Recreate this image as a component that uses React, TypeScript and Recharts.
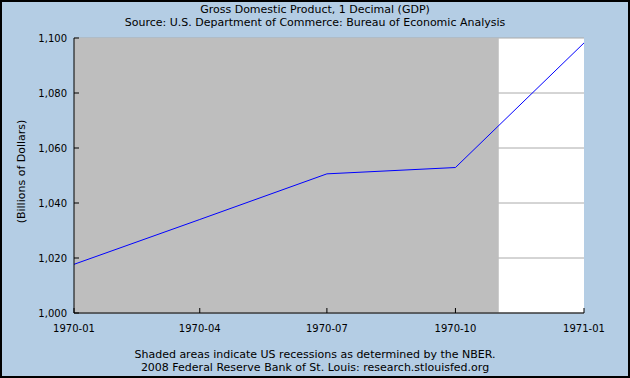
import { LineChart, Line, XAxis, YAxis, CartesianGrid, ReferenceArea, Label } from 'recharts';

// quarterly GDP, billions of dollars
const quarters = ['1970-01', '1970-04', '1970-07', '1970-10', '1971-01'];
const dayOfPeriod = [0, 90, 181, 273, 365];
const gdp = [1017.7, 1034.0, 1050.6, 1052.9, 1098.2];

const yTicks = [1000, 1020, 1040, 1060, 1080, 1100];
// NBER recession Dec 1969 - Nov 1970, in days since 1970-01-01
const recessionStart = 0;
const recessionEnd = 304;

const data = dayOfPeriod.map((d, i) => ({ day: d, label: quarters[i], value: gdp[i] }));

const FONT = '"DejaVu Sans", Verdana, sans-serif';
const BG = '#b4cde4';

function fmtQuarter(day: number) {
  const i = dayOfPeriod.indexOf(day);
  return i >= 0 ? quarters[i] : '';
}

export default function App() {
  return (
    <div
      style={{
        position: 'absolute',
        left: 0,
        top: 0,
        width: 630,
        height: 378,
        background: BG,
        fontFamily: FONT,
        color: '#000',
      }}
    >
      <div style={{ position: 'absolute', top: 3, width: 630, textAlign: 'center', fontSize: 11, lineHeight: '13px' }}>
        Gross Domestic Product, 1 Decimal (GDP)
        <br />
        Source: U.S. Department of Commerce: Bureau of Economic Analysis
      </div>
      <LineChart width={630} height={378} data={data} margin={{ top: 38, right: 46, left: 0, bottom: 0 }}>
        <CartesianGrid vertical={false} stroke="#aaaaaa" fill="#ffffff" />
        <ReferenceArea
          x1={recessionStart}
          x2={recessionEnd}
          y1={1000}
          y2={1100}
          fill="#bebebe"
          fillOpacity={1}
          stroke="none"
        />
        <XAxis
          dataKey="day"
          type="number"
          domain={[0, 365]}
          ticks={dayOfPeriod}
          tickFormatter={fmtQuarter}
          height={65}
          axisLine={{ stroke: '#000' }}
          tickLine={{ stroke: '#000' }}
          tickSize={-5}
          tickMargin={17}
          tick={{ fill: '#000', fontSize: 10, fontFamily: FONT }}
          interval={0}
        />
        <YAxis
          type="number"
          domain={[1000, 1100]}
          ticks={yTicks}
          width={74}
          tickFormatter={(v: number) => v.toLocaleString('en-US')}
          axisLine={{ stroke: '#000' }}
          tickLine={{ stroke: '#000' }}
          tickSize={-5}
          tickMargin={12}
          tick={{ fill: '#000', fontSize: 10, fontFamily: FONT }}
          interval={0}
        >
          <Label
            value="(Billions of Dollars)"
            angle={-90}
            position="insideLeft"
            offset={21}
            dx={0}
            dy={-4}
            style={{ fill: '#000', fontSize: 11, fontFamily: FONT, textAnchor: 'middle' }}
          />
        </YAxis>
        <Line
          type="linear"
          dataKey="value"
          stroke="#0000ff"
          strokeWidth={1}
          dot={false}
          isAnimationActive={false}
        />
      </LineChart>
      <div style={{ position: 'absolute', top: 348, width: 630, textAlign: 'center', fontSize: 11, lineHeight: '13px' }}>
        Shaded areas indicate US recessions as determined by the NBER.
        <br />
        2008 Federal Reserve Bank of St. Louis: research.stlouisfed.org
      </div>
      <div
        style={{
          position: 'absolute',
          inset: 0,
          border: '2px solid #000',
          pointerEvents: 'none',
        }}
      />
    </div>
  );
}
